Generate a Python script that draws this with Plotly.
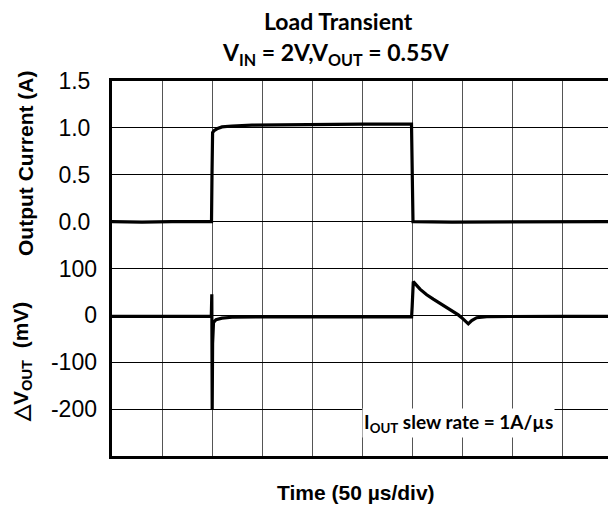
import plotly.graph_objects as go

# Load-step waveform: time in µs (50 µs per division)
current_t = [0, 30, 60, 99.5, 100, 100.6, 102, 105, 110, 120, 140, 170, 200, 250, 299.5, 300.2, 301, 340, 400, 450, 496]
current_a = [0.0, -0.005, 0.0, 0.0, 0.5, 0.95, 0.97, 0.99, 1.01, 1.02, 1.03, 1.035, 1.04, 1.04, 1.04, 0.5, 0.0, -0.005, 0.0, 0.0, 0.0]

vout_t = [0, 40, 99.3, 99.8, 100.2, 100.6, 101.5, 104, 110, 120, 160, 220, 299.6, 300.2, 301.3, 308, 314.7, 321.3,
          328, 334.7, 341.3, 346.3, 351.3, 356.3, 359.7, 364.7, 374.7, 400, 450, 496]
vout_mv = [-2, -2, -2, 45, -200, -60, -15, -9, -6, -4, -3, -3, -3, 20, 72, 56, 44, 34.5,
           26, 17, 8, 1, -8, -18, -11, -5, -2.5, -2, -2, -2]

# Axis scales: 8 vertical divisions shared by the two traces
current_ticks = [0.0, 0.5, 1.0, 1.5]
vout_ticks = [-200, -100, 0, 100]
vout_labels = ["-200", "-100", "0", "100"]
time_div = 50
time_span = 496

TICK_FONT = dict(family="Liberation Sans, Arial", size=23, color="black")
BOLD_SANS = "Liberation Sans, Arial"
TITLE_FONT = "Lato, Open Sans"

fig = go.Figure()
fig.add_trace(go.Scatter(x=current_t, y=current_a, mode="lines",
                         line=dict(color="black", width=3.2), yaxis="y", showlegend=False))
fig.add_trace(go.Scatter(x=vout_t, y=vout_mv, mode="lines",
                         line=dict(color="black", width=3.2), yaxis="y2", showlegend=False))

# horizontal gridlines on every division of the current axis
grid_vals = [-2.5 + 0.5 * k for k in range(9)]
grid_text = [("%.1f" % v) if v in current_ticks else "" for v in grid_vals]

fig.update_layout(
    width=608, height=510,
    margin=dict(l=112, r=0, t=81, b=54),
    paper_bgcolor="white", plot_bgcolor="white",
    xaxis=dict(range=[0, time_span], tickvals=list(range(0, time_span + 1, time_div)),
               showticklabels=False, ticks="", showgrid=True, gridcolor="#555555", gridwidth=1,
               zeroline=False, showline=True, linecolor="black", linewidth=3, mirror=True),
    yaxis=dict(range=[-2.5, 1.5], tickvals=grid_vals, ticktext=grid_text, tickfont=TICK_FONT,
               ticks="", ticklabelstandoff=14, showgrid=True, gridcolor="black", gridwidth=1,
               zeroline=False, showline=True, linecolor="black", linewidth=3),
    yaxis2=dict(range=[-300, 500], overlaying="y", side="left", tickvals=vout_ticks,
                ticktext=vout_labels, tickfont=TICK_FONT, ticks="", ticklabelstandoff=14,
                showgrid=False, zeroline=False, showline=False),
)

def px_x(p):
    return (p - 112) / 496

def px_y(p):
    return (456 - p) / 375

annotations = [
    dict(text="<b>Load Transient</b>", x=px_x(338), y=px_y(21),
         font=dict(family=TITLE_FONT, size=23, color="black")),
    dict(text="<b>V<sub>IN</sub> = 2V,V<sub>OUT</sub> = 0.55V</b>", x=px_x(336), y=px_y(54),
         font=dict(family=TITLE_FONT, size=23, color="black")),
    dict(text="<b>Output Current (A)</b>", x=px_x(25), y=px_y(164), textangle=-90,
         font=dict(family=BOLD_SANS, size=21, color="black")),
    dict(text="<b>△V<sub>OUT</sub>  (mV)</b>", x=px_x(22), y=px_y(362), textangle=-90,
         font=dict(family=BOLD_SANS, size=21, color="black")),
    dict(text="<b>Time (50 µs/div)</b>", x=px_x(356), y=px_y(492),
         font=dict(family=BOLD_SANS, size=21, color="black")),
    dict(text="<b>I<sub>OUT</sub> slew rate = 1A/µs</b>", x=px_x(458), y=px_y(423),
         bgcolor="white", borderpad=1,
         font=dict(family=TITLE_FONT, size=19, color="black")),
]
for a in annotations:
    a.update(xref="paper", yref="paper", showarrow=False, xanchor="center", yanchor="middle")
fig.update_layout(annotations=annotations)

fig.write_html("out.html")
